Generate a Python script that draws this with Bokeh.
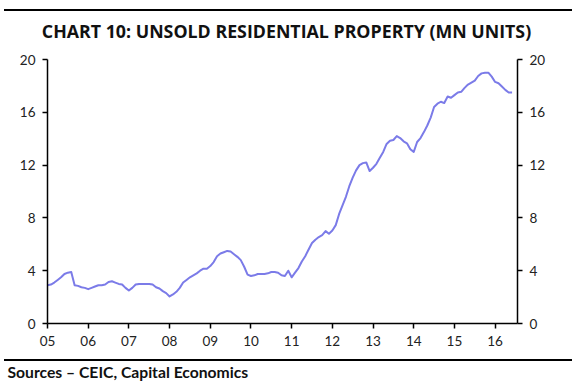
from bokeh.plotting import figure
from bokeh.models import Range1d, LinearAxis, FixedTicker, ColumnDataSource, Div
from bokeh.layouts import column
from bokeh.embed import file_html
from bokeh.resources import INLINE
from bokeh.core.properties import value

TITLE = "CHART 10: UNSOLD RESIDENTIAL PROPERTY (MN UNITS)"
SOURCE = "Sources \u2013 CEIC, Capital Economics"

start_year = 2005
# monthly unsold residential property (mn units), Jan 2005 onwards
unsold = [
    2.9, 2.95, 3.1, 3.3, 3.5, 3.75, 3.85, 3.9, 2.9, 2.85, 2.75, 2.7,
    2.6, 2.7, 2.8, 2.9, 2.9, 2.95, 3.15, 3.2, 3.1, 3.0, 2.95, 2.7,
    2.5, 2.7, 2.95, 3.0, 3.0, 3.0, 3.0, 2.95, 2.75, 2.65, 2.45, 2.3,
    2.05, 2.2, 2.4, 2.7, 3.1, 3.3, 3.5, 3.65, 3.8, 4.0, 4.15, 4.15,
    4.35, 4.65, 5.1, 5.3, 5.4, 5.5, 5.45, 5.25, 5.05, 4.8, 4.3, 3.7,
    3.6, 3.65, 3.75, 3.75, 3.75, 3.8, 3.9, 3.9, 3.85, 3.65, 3.6, 4.0,
    3.5, 3.85, 4.2, 4.7, 5.1, 5.6, 6.1, 6.35, 6.55, 6.7, 7.0, 6.8,
    7.05, 7.45, 8.3, 8.95, 9.6, 10.4, 11.05, 11.6, 12.0, 12.15, 12.2, 11.55,
    11.8, 12.1, 12.55, 13.0, 13.6, 13.85, 13.9, 14.2, 14.05, 13.8, 13.65, 13.2,
    13.0, 13.75, 14.05, 14.5, 15.0, 15.6, 16.4, 16.65, 16.8, 16.7, 17.2, 17.1,
    17.3, 17.5, 17.55, 17.85, 18.1, 18.25, 18.4, 18.75, 18.95, 19.0, 19.0, 18.7,
    18.3, 18.2, 17.95, 17.7, 17.5, 17.5,
]
year_ticks = list(range(2005, 2017))
year_labels = ["05", "06", "07", "08", "09", "10", "11", "12", "13", "14", "15", "16"]
y_ticks = [0, 4, 8, 12, 16, 20]

x_vals = [start_year + m / 12.0 for m in range(len(unsold))]
src = ColumnDataSource(dict(x=x_vals, y=unsold))

W = 580
TXT = "#111111"


def blank(height):
    f = figure(frame_width=W, frame_height=height, title=None,
               x_range=Range1d(0, W), y_range=Range1d(0, height),
               output_backend="svg", toolbar_location=None,
               x_axis_location=None, y_axis_location=None,
               min_border_left=0, min_border_right=0, min_border_top=0, min_border_bottom=0)
    f.frame_align = False
    f.outline_line_color = None
    f.xgrid.visible = False
    f.ygrid.visible = False
    f.background_fill_color = None
    f.border_fill_color = None
    return f


def rule(top_margin):
    return Div(text="", width=568, height=2, margin=(top_margin, 8, 0, 4),
               styles={"background-color": "black"})


# ---- header rule + title strip
rule_top = rule(9)
H_TOP = 41
top = blank(H_TOP)
top.text(x=[286], y=[22], text=[TITLE], text_align="center", text_baseline="alphabetic",
         text_font=value("Open Sans"), text_font_style="bold", text_font_size="17.8px",
         text_color=TXT)

# ---- main chart
p = figure(width=W, height=300, x_range=Range1d(2005, 2016.55), y_range=Range1d(0, 20),
           output_backend="svg", toolbar_location=None,
           min_border_left=47, min_border_right=63, min_border_top=7, min_border_bottom=29)
p.outline_line_color = None
p.xgrid.visible = False
p.ygrid.visible = False
p.add_layout(LinearAxis(), "right")

for ax in p.xaxis:
    ax.ticker = FixedTicker(ticks=year_ticks)
    ax.major_label_overrides = {t: l for t, l in zip(year_ticks, year_labels)}
for ax in p.yaxis:
    ax.ticker = FixedTicker(ticks=y_ticks)
for ax in list(p.xaxis) + list(p.yaxis):
    ax.axis_line_color = "black"
    ax.axis_line_width = 1.5
    ax.major_tick_line_color = "black"
    ax.major_tick_line_width = 1.5
    ax.major_tick_out = 5
    ax.major_tick_in = 0
    ax.minor_tick_line_color = None
    ax.major_label_text_font = "Lato"
    ax.major_label_text_font_size = "13.5px"
    ax.major_label_text_color = "#222222"
    ax.major_label_standoff = 7

p.line("x", "y", source=src, line_color="#7b7be8", line_width=2, line_join="round")

# ---- footer rule + sources strip
rule_bot = rule(7)
H_BOT = 27
bot = blank(H_BOT)
bot.text(x=[7], y=[17], text=[SOURCE], text_align="left", text_baseline="alphabetic",
         text_font=value("Lato"), text_font_style="bold", text_font_size="15.7px",
         text_color=TXT)

layout = column(rule_top, top, p, rule_bot, bot, spacing=0)
open("out.html", "w").write(file_html(layout, INLINE))
